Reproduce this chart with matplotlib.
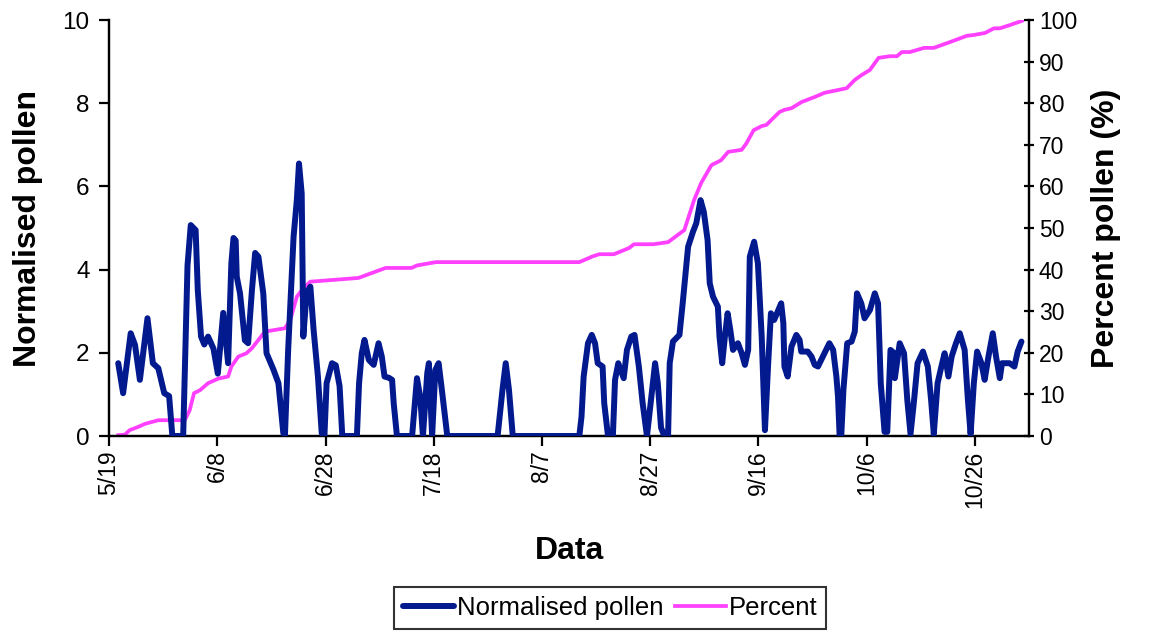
import pandas as pd
import matplotlib
matplotlib.use("Agg")
import matplotlib.pyplot as plt

plt.rcParams['font.family'] = ['Liberation Sans', 'DejaVu Sans']

start = pd.Timestamp("2007-05-19")
end = pd.Timestamp("2007-11-05")

# days after 5/19 and normalised pollen values
pollen_day = [1.7, 2.6, 4.0, 4.8, 5.7, 7.1, 8.1, 9.1, 10.2, 11.1, 11.7, 13.7, 14.5, 15.1, 16.0,
              16.4, 17.0, 17.6, 18.3, 19.3, 20.1, 21.1, 22.0, 22.6, 23.0, 23.4, 23.6, 24.2, 25.1,
              25.7, 26.4, 27.0, 27.6, 28.5, 29.1, 30.4, 31.3, 32.2, 32.5, 33.1, 34.1, 34.7, 35.1,
              35.6, 35.9, 36.5, 37.2, 37.8, 38.6, 39.3, 39.8, 40.2, 41.2, 41.9, 42.6, 43.1, 45.8,
              46.2, 46.7, 47.2, 48.0, 48.9, 49.8, 50.4, 50.9, 51.7, 52.3, 52.6, 53.2, 56.0, 56.9,
              57.5, 58.0, 58.8, 59.1, 59.7, 60.3, 60.9, 61.5, 62.5, 71.8, 72.7, 73.3, 73.9, 74.6,
              86.9, 87.3, 87.7, 88.5, 89.2, 89.8, 90.3, 91.2, 91.5, 92.2, 93.1, 93.5, 94.1, 95.1,
              95.7, 96.5, 97.1, 97.9, 98.6, 99.4, 100.9, 101.4, 102.0, 102.6, 103.3, 103.6, 104.2,
              105.4, 106.0, 107.0, 107.9, 108.5, 109.3, 109.9, 110.6, 111.0, 111.6, 112.5, 112.8,
              113.3, 113.8, 114.3, 114.8, 115.3, 116.2, 116.9, 117.5, 118.1, 118.4, 119.2, 119.9,
              120.6, 121.2, 121.8, 122.3, 122.9, 124.2, 124.6, 124.8, 125.4, 126.1, 127.0, 127.6,
              127.9, 129.1, 129.8, 130.4, 131.0, 131.6, 133.1, 133.8, 134.4, 134.7, 135.0, 135.3,
              135.7, 136.4, 137.2, 137.8, 138.2, 139.0, 139.6, 140.6, 141.5, 142.1, 142.6, 143.3,
              143.8, 144.4, 145.0, 145.2, 146.1, 146.9, 147.5, 148.1, 148.7, 149.4, 150.4, 151.3,
              151.9, 152.4, 153.1, 153.8, 154.4, 155.1, 155.7, 156.5, 157.2, 158.1, 158.7, 159.2,
              159.8, 160.4, 161.2, 161.8, 162.5, 163.3, 163.9, 164.6, 165.0, 166.4, 167.3, 167.9,
              168.6]
pollen = [1.75, 1.03, 2.47, 2.19, 1.35, 2.83, 1.75, 1.63, 1.03, 0.96, 0, 0, 4.1, 5.07, 4.95,
          3.5, 2.39, 2.2, 2.39, 2.1, 1.5, 2.96, 1.75, 4.15, 4.76, 4.7, 3.83, 3.43, 2.3,
          2.23, 3.5, 4.4, 4.31, 3.43, 1.99, 1.59, 1.27, 0.07, 0, 2.07, 4.79, 5.67, 6.55,
          5.83, 2.39, 3.43, 3.59, 2.55, 1.43, 0.07, 0, 1.27, 1.75, 1.7, 1.2, 0, 0,
          1.27, 1.99, 2.31, 1.83, 1.71, 2.23, 1.91, 1.43, 1.4, 1.35, 0.79, 0, 0, 1.39,
          0.94, 0, 1.51, 1.75, 0, 1.59, 1.75, 1.11, 0, 0, 1.11, 1.75, 1.11, 0,
          0, 0.46, 1.43, 2.23, 2.43, 2.23, 1.75, 1.67, 0.79, 0, 0, 1.35, 1.75, 1.39,
          2.07, 2.39, 2.43, 1.67, 0.79, 0, 1.75, 1.27, 0.2, 0, 0, 1.75, 2.27,
          2.43, 3.19, 4.55, 4.91, 5.11, 5.67, 5.39, 4.71, 3.67, 3.35, 3.11, 2.39,
          1.75, 2.39, 2.95, 2.55, 2.07, 2.23, 1.99, 1.71, 2.07, 4.31, 4.67, 4.15,
          2.39, 0.14, 1.75, 2.95, 2.79, 3.19, 2.71, 1.67, 1.43, 2.15, 2.43, 2.31,
          2.03, 2.03, 1.91, 1.71, 1.67, 1.83, 2.23, 2.07, 1.43, 0.94, 0, 0,
          1.11, 2.23, 2.27, 2.51, 3.43, 3.19, 2.83, 3.03, 3.43, 3.19, 1.27, 0.1,
          0.1, 2.07, 2.0, 1.39, 2.23, 1.99, 0.87, 0.05, 0.79, 1.75, 2.03, 1.67,
          0.87, 0.05, 1.27, 1.67, 1.99, 1.43, 1.91, 2.23, 2.47, 2.07, 0.87, 0.05,
          1.27, 2.03, 1.75, 1.35, 1.91, 2.47, 1.91, 1.39, 1.75, 1.75, 1.67, 2.03,
          2.27]

# cumulative percent of pollen
percent_day = [1.7, 2.9, 3.8, 5.4, 6.6, 9.1, 14.0, 14.9, 15.7, 16.8, 18.3, 20.2, 22.0, 22.6,
               23.9, 25.4, 26.4, 27.6, 28.8, 32.5, 33.5, 34.7, 35.9, 37.2, 41.2, 46.1, 51.1,
               55.9, 56.9, 59.1, 60.4, 86.9, 89.4, 90.6, 93.3, 96.1, 97.0, 100.6, 103.3, 106.3,
               108.1, 109.4, 111.3, 113.1, 114.4, 116.9, 117.8, 119.1, 120.6, 121.5, 122.4,
               123.9, 124.8, 126.1, 128.0, 130.4, 132.2, 134.8, 136.3, 137.8, 139.1, 140.6,
               142.2, 144.3, 145.6, 146.5, 148.0, 150.6, 152.4, 155.4, 158.5, 159.8, 161.9,
               163.5, 164.6, 166.5, 168.7]
percent = [0.2, 0.3, 1.4, 2.2, 2.9, 3.8, 3.8, 6.2, 10.3, 11.0, 12.7, 13.8, 14.3, 16.7,
           19.1, 19.9, 21.1, 23.1, 25.1, 25.9, 27.9, 33.5, 35.5, 37.1, 37.5, 38.0, 40.4,
           40.4, 41.0, 41.5, 41.8, 41.8, 43.2, 43.7, 43.7, 45.2, 46.1, 46.1, 46.6, 49.5,
           56.7, 60.8, 65.1, 66.3, 68.3, 68.8, 70.4, 73.5, 74.5, 74.8, 76.0,
           77.9, 78.4, 78.8, 80.3, 81.5, 82.5, 83.2, 83.6, 85.6, 86.8, 88.0,
           90.9, 91.3, 91.3, 92.3, 92.3, 93.3, 93.3, 94.7, 96.2, 96.4, 96.9,
           98.0, 98.0, 98.8, 99.8]

tick_dates = pd.date_range(start, periods=9, freq="20D")

pollen_t = start + pd.to_timedelta(pollen_day, unit="D")
percent_t = start + pd.to_timedelta(percent_day, unit="D")

fig = plt.figure(figsize=(11.49, 6.33), dpi=100)
ax = fig.add_axes([0.0949, 0.3112, 0.8007, 0.6572])
ax2 = ax.twinx()

l1, = ax.plot(pollen_t, pollen, color="#031a8f", lw=4.3, solid_joinstyle="round",
              solid_capstyle="round", label="Normalised pollen", zorder=3)
l2, = ax2.plot(percent_t, percent, color="#ff40ff", lw=2.7, solid_joinstyle="round",
               label="Percent", zorder=2)
ax.set_zorder(ax2.get_zorder() + 1)
ax.patch.set_visible(False)

ax.set_xlim(start, end)
ax.set_ylim(0, 10)
ax2.set_ylim(0, 100)
ax.set_yticks(range(0, 11, 2))
ax2.set_yticks(range(0, 101, 10))
ax.set_xticks(tick_dates)
ax.set_xticklabels([f"{d.month}/{d.day}" for d in tick_dates], rotation=90)

for a in (ax, ax2):
    a.spines["top"].set_visible(False)
    for s in a.spines.values():
        s.set_linewidth(1.6)
ax.tick_params(axis="x", labelsize=16.5, width=1.6, length=7, direction="out")
ax.tick_params(axis="y", labelsize=17.5, width=1.6, length=7, direction="out", pad=7)
ax2.tick_params(axis="y", labelsize=16.5, width=1.6, length=7, direction="inout")

ax.set_ylabel("Normalised pollen", fontsize=23, fontweight="bold", labelpad=14)
ax2.set_ylabel("Percent pollen (%)", fontsize=23, fontweight="bold", labelpad=10)
ax.set_xlabel("Data", fontsize=23, fontweight="bold", labelpad=20)

leg = fig.legend(handles=[l1, l2], loc="upper center", bbox_to_anchor=(0.531, 1 - 587 / 633),
                 ncol=2, fontsize=18.5, frameon=True, fancybox=False, edgecolor="black",
                 handlelength=2.0, handletextpad=0.1, columnspacing=0.45, borderpad=0.35,
                 borderaxespad=0)
leg.get_frame().set_linewidth(1.5)

fig.savefig("out.png", dpi=100)
